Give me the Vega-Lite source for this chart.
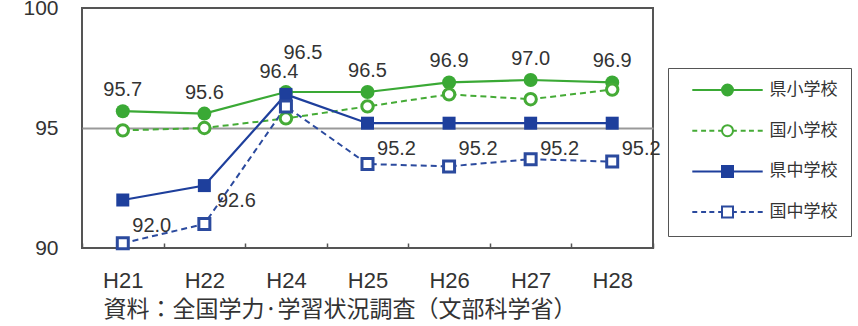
{
  "$schema": "https://vega.github.io/schema/vega-lite/v6.json",
  "width": 571,
  "height": 240,
  "autosize": "none",
  "padding": {"left": 82, "top": 8, "right": 205, "bottom": 78},
  "background": "white",
  "config": {
    "font": "Liberation Sans",
    "view": {"stroke": "#555", "strokeWidth": 2}
  },
  "data": {
    "values": [
      {"series": "県小学校", "year": "H21", "value": 95.7},
      {"series": "県小学校", "year": "H22", "value": 95.6},
      {"series": "県小学校", "year": "H24", "value": 96.5},
      {"series": "県小学校", "year": "H25", "value": 96.5},
      {"series": "県小学校", "year": "H26", "value": 96.9},
      {"series": "県小学校", "year": "H27", "value": 97.0},
      {"series": "県小学校", "year": "H28", "value": 96.9},
      {"series": "国小学校", "year": "H21", "value": 94.9},
      {"series": "国小学校", "year": "H22", "value": 95.0},
      {"series": "国小学校", "year": "H24", "value": 95.4},
      {"series": "国小学校", "year": "H25", "value": 95.9},
      {"series": "国小学校", "year": "H26", "value": 96.4},
      {"series": "国小学校", "year": "H27", "value": 96.2},
      {"series": "国小学校", "year": "H28", "value": 96.6},
      {"series": "県中学校", "year": "H21", "value": 92.0},
      {"series": "県中学校", "year": "H22", "value": 92.6},
      {"series": "県中学校", "year": "H24", "value": 96.4},
      {"series": "県中学校", "year": "H25", "value": 95.2},
      {"series": "県中学校", "year": "H26", "value": 95.2},
      {"series": "県中学校", "year": "H27", "value": 95.2},
      {"series": "県中学校", "year": "H28", "value": 95.2},
      {"series": "国中学校", "year": "H21", "value": 90.2},
      {"series": "国中学校", "year": "H22", "value": 91.0},
      {"series": "国中学校", "year": "H24", "value": 95.9},
      {"series": "国中学校", "year": "H25", "value": 93.5},
      {"series": "国中学校", "year": "H26", "value": 93.4},
      {"series": "国中学校", "year": "H27", "value": 93.7},
      {"series": "国中学校", "year": "H28", "value": 93.6}
    ]
  },
  "encoding": {
    "x": {
      "field": "year",
      "type": "nominal",
      "scale": {
        "type": "band",
        "domain": ["H21", "H22", "H24", "H25", "H26", "H27", "H28"],
        "paddingInner": 0,
        "paddingOuter": 0
      },
      "axis": {
        "title": "資料：全国学力·学習状況調査（文部科学省）",
        "titleFont": "Noto Sans CJK JP",
        "titleFontSize": 23,
        "titleFontWeight": "normal",
        "titleColor": "#333",
        "titleAnchor": "start",
        "titleAlign": "left",
        "titleBaseline": "middle",
        "titleX": 21,
        "titleY": 61,
        "labelAngle": 0,
        "labelFontSize": 22,
        "labelColor": "#333",
        "labelBaseline": "middle",
        "labelPadding": 37,
        "ticks": true,
        "tickSize": -5,
        "tickBand": "extent",
        "tickColor": "#555",
        "tickWidth": 1.5,
        "domain": false,
        "grid": false
      }
    },
    "y": {
      "field": "value",
      "type": "quantitative",
      "scale": {"domain": [90, 100], "nice": false, "zero": false},
      "axis": {
        "title": null,
        "values": [90, 95, 100],
        "labelFontSize": 21,
        "labelColor": "#333",
        "labelPadding": 24,
        "ticks": false,
        "domain": false,
        "grid": true,
        "gridColor": {
          "condition": {"test": "datum.value === 95", "value": "#999"},
          "value": "rgba(0,0,0,0)"
        },
        "gridWidth": 2
      }
    }
  },
  "layer": [
    {
      "transform": [{"filter": "datum.series === '県小学校'"}],
      "mark": {"type": "line", "strokeWidth": 2.2, "color": "#3aa935"},
      "encoding": {}
    },
    {
      "transform": [{"filter": "datum.series === '国小学校'"}],
      "mark": {"type": "line", "strokeWidth": 2, "strokeDash": [6, 4], "color": "#45ab36"},
      "encoding": {}
    },
    {
      "transform": [{"filter": "datum.series === '県中学校'"}],
      "mark": {"type": "line", "strokeWidth": 2.2, "color": "#1e3f9c"},
      "encoding": {}
    },
    {
      "transform": [{"filter": "datum.series === '国中学校'"}],
      "mark": {"type": "line", "strokeWidth": 2, "strokeDash": [6, 4], "color": "#2b4a9e"},
      "encoding": {}
    },
    {
      "description": "legend key: a short line with the series marker, solid or broken",
      "mark": {"type": "point", "filled": true, "opacity": 0, "size": 121, "strokeWidth": 2},
      "encoding": {
        "stroke": {
          "field": "series",
          "type": "nominal",
          "scale": {
            "domain": ["県小学校", "国小学校", "県中学校", "国中学校"],
            "range": ["#3aa935", "#45ab36", "#1e3f9c", "#2b4a9e"]
          },
          "legend": {
            "title": null,
            "orient": "none",
            "legendX": 586,
            "legendY": 60,
            "padding": 13.5,
            "strokeColor": "#555",
            "rowPadding": 21.7,
            "symbolSize": 121,
            "symbolStrokeWidth": 2,
            "symbolOpacity": 1,
            "symbolOffset": 37.5,
            "labelOffset": 33.5,
            "labelFont": "Noto Sans CJK JP",
            "labelFontSize": 17,
            "labelColor": "#333"
          }
        },
        "fill": {
          "field": "series",
          "type": "nominal",
          "scale": {
            "domain": ["県小学校", "国小学校", "県中学校", "国中学校"],
            "range": ["#3aa935", "#ffffff", "#1e3f9c", "#ffffff"]
          },
          "legend": {
            "title": null,
            "orient": "none",
            "legendX": 586,
            "legendY": 60,
            "padding": 13.5,
            "strokeColor": "#555",
            "rowPadding": 21.7,
            "symbolSize": 121,
            "symbolStrokeWidth": 2,
            "symbolOpacity": 1,
            "symbolOffset": 37.5,
            "labelOffset": 33.5,
            "labelFont": "Noto Sans CJK JP",
            "labelFontSize": 17,
            "labelColor": "#333"
          }
        },
        "shape": {
          "field": "series",
          "type": "nominal",
          "scale": {
            "domain": ["県小学校", "国小学校", "県中学校", "国中学校"],
            "range": [
              "M-6.4,0H-1M1,0H6.4M1,0A1,1,0,1,1,-1,0A1,1,0,1,1,1,0Z",
              "M-6.4,0H-5.5M-4.8,0H-3.9M-3.3,0H-2.4M-1.7,0H-1M1,0H1.7M2.4,0H3.3M3.9,0H4.8M5.5,0H6.4M1,0A1,1,0,1,1,-1,0A1,1,0,1,1,1,0Z",
              "M-6.4,0H-1M1,0H6.4M-1,-1H1V1H-1Z",
              "M-6.4,0H-5.5M-4.8,0H-3.9M-3.3,0H-2.4M-1.7,0H-1M1,0H1.7M2.4,0H3.3M3.9,0H4.8M5.5,0H6.4M-1,-1H1V1H-1Z"
            ]
          },
          "legend": {
            "title": null,
            "orient": "none",
            "legendX": 586,
            "legendY": 60,
            "padding": 13.5,
            "strokeColor": "#555",
            "rowPadding": 21.7,
            "symbolSize": 121,
            "symbolStrokeWidth": 2,
            "symbolOpacity": 1,
            "symbolOffset": 37.5,
            "labelOffset": 33.5,
            "labelFont": "Noto Sans CJK JP",
            "labelFontSize": 17,
            "labelColor": "#333"
          }
        }
      }
    },
    {
      "transform": [{"filter": "datum.series === '県小学校'"}],
      "mark": {"type": "point", "shape": "circle", "filled": true, "color": "#3aa935", "size": 196, "opacity": 1},
      "encoding": {}
    },
    {
      "transform": [{"filter": "datum.series === '国小学校'"}],
      "mark": {"type": "point", "shape": "circle", "filled": false, "fill": "white", "stroke": "#45ab36", "strokeWidth": 3, "size": 130, "opacity": 1},
      "encoding": {}
    },
    {
      "transform": [{"filter": "datum.series === '県中学校'"}],
      "mark": {"type": "point", "shape": "square", "filled": true, "color": "#1e3f9c", "size": 169, "opacity": 1},
      "encoding": {}
    },
    {
      "transform": [{"filter": "datum.series === '国中学校'"}],
      "mark": {"type": "point", "shape": "square", "filled": false, "fill": "white", "stroke": "#2b4a9e", "strokeWidth": 3, "size": 121, "opacity": 1},
      "encoding": {}
    },
    {
      "transform": [{"filter": "datum.series === '県小学校' && datum.year !== 'H24'"}],
      "mark": {"type": "text", "fontSize": 20, "color": "#333", "dy": -21},
      "encoding": {"text": {"field": "value", "type": "quantitative", "format": ".1f"}}
    },
    {
      "transform": [{"filter": "datum.series === '県小学校' && datum.year === 'H24'"}],
      "mark": {"type": "text", "fontSize": 20, "color": "#333", "dx": 17, "dy": -39},
      "encoding": {"text": {"field": "value", "type": "quantitative", "format": ".1f"}}
    },
    {
      "transform": [{"filter": "datum.series === '県中学校' && datum.year !== 'H22' && datum.year !== 'H24'"}],
      "mark": {"type": "text", "fontSize": 20, "color": "#333", "dx": 29, "dy": 25.5},
      "encoding": {"text": {"field": "value", "type": "quantitative", "format": ".1f"}}
    },
    {
      "transform": [{"filter": "datum.series === '県中学校' && datum.year === 'H22'"}],
      "mark": {"type": "text", "fontSize": 20, "color": "#333", "dx": 32, "dy": 15},
      "encoding": {"text": {"field": "value", "type": "quantitative", "format": ".1f"}}
    },
    {
      "transform": [{"filter": "datum.series === '県中学校' && datum.year === 'H24'"}],
      "mark": {"type": "text", "fontSize": 20, "color": "#333", "dx": -7, "dy": -22},
      "encoding": {"text": {"field": "value", "type": "quantitative", "format": ".1f"}}
    }
  ]
}
